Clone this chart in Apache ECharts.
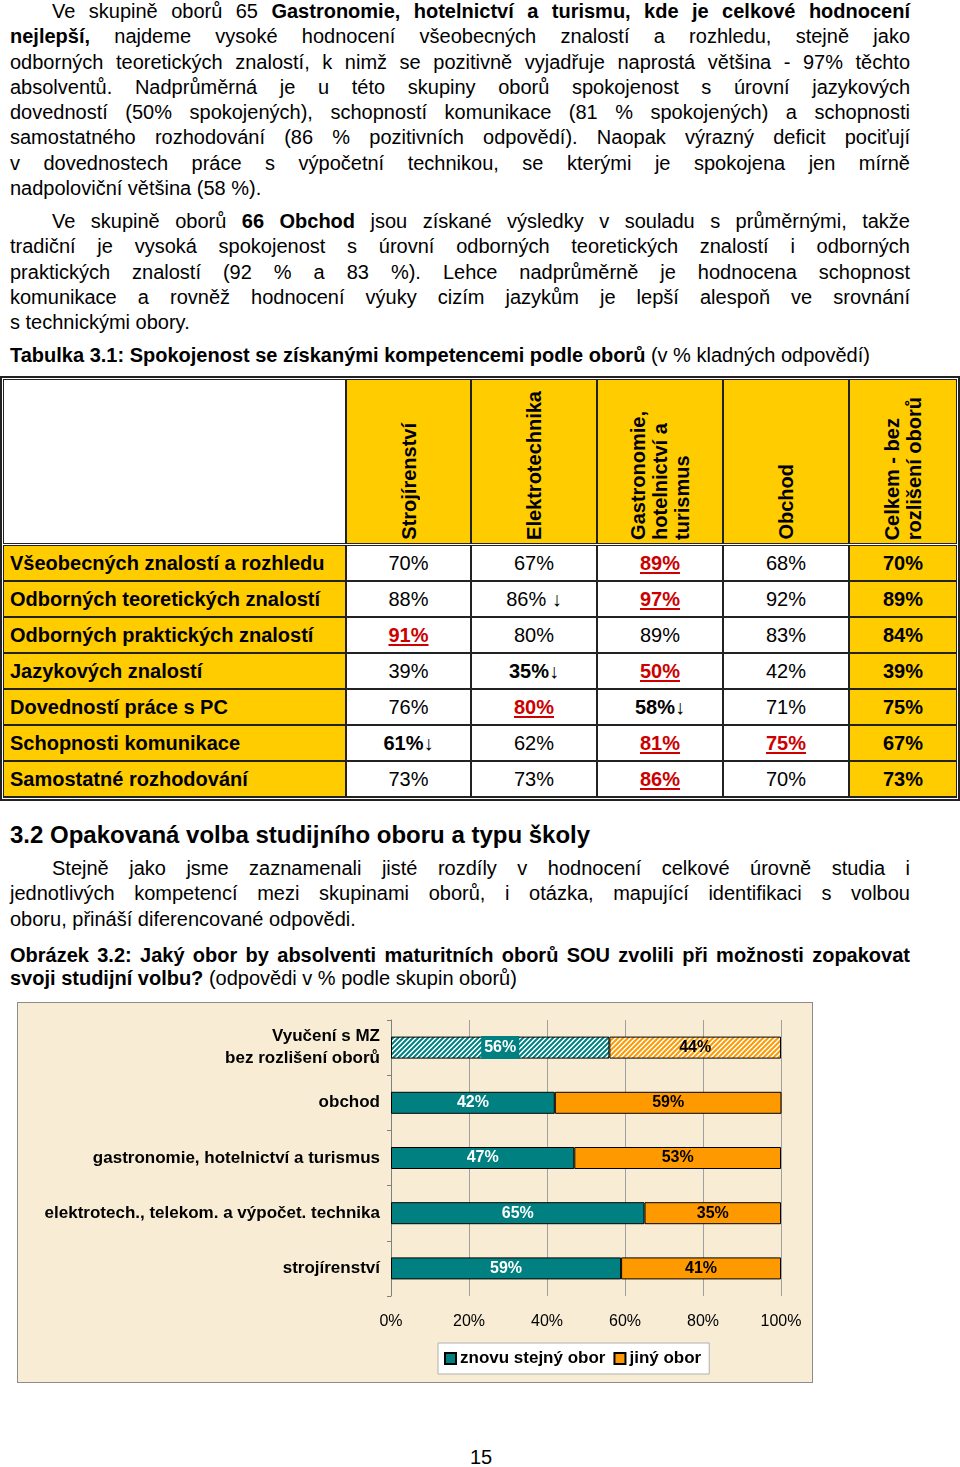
<!DOCTYPE html>
<html lang="cs">
<head>
<meta charset="utf-8">
<script src="https://cdn.jsdelivr.net/npm/echarts@6/dist/echarts.min.js"></script>
<style>
  html, body { margin:0; padding:0; background:#fff; }
  body { width:960px; height:1467px; position:relative; overflow:hidden;
         font-family:"Liberation Sans", Arial, sans-serif; color:#000; }
  .blk { position:absolute; left:10px; width:900px; font-size:20px; }
  .blk div { height:25.3px; line-height:25.3px; text-align:justify; text-align-last:justify; white-space:normal; }
  .blk div.ind { text-indent:42px; }
  .blk div.last { text-align:left; text-align-last:left; }
  .cap div { height:23px; line-height:23px; }
  #tbl { position:absolute; left:0; top:376px; width:960px; height:425px; box-sizing:border-box;
         border:2px solid #222; background:#fff; }
  #tblin { position:absolute; left:1px; top:1px; width:954px; height:419px; background:#222; }
  .cell { position:absolute; box-sizing:border-box; font-size:20px; display:flex; align-items:center; }
  .hcell { position:absolute; box-sizing:border-box; background:#FFCC00; display:flex; justify-content:center; align-items:flex-end; }
  .vt { writing-mode:vertical-rl; transform:rotate(180deg); font-weight:bold; font-size:20px; line-height:22px; text-align:start; padding-top:3px; }
  .hi { color:#CC0000; font-weight:bold; text-decoration:underline; text-decoration-thickness:2px; text-underline-offset:2px; }
  .lo { font-weight:bold; }
  #chartBox { position:absolute; left:17px; top:1002px; width:796px; height:381px; box-sizing:border-box;
              border:1px solid #8c8c8c; background:#F8EDD4; }
  #chart { position:absolute; left:0; top:0; width:794px; height:379px; }
</style>
</head>
<body>

<div class="blk" style="top:-1px">
  <div class="ind">Ve skupině oborů 65 <b>Gastronomie, hotelnictví a turismu, kde je celkové hodnocení</b></div>
  <div><b>nejlepší,</b> najdeme vysoké hodnocení všeobecných znalostí a rozhledu, stejně jako</div>
  <div>odborných teoretických znalostí, k nimž se pozitivně vyjadřuje naprostá většina - 97% těchto</div>
  <div>absolventů. Nadprůměrná je u této skupiny oborů spokojenost s úrovní jazykových</div>
  <div>dovedností (50% spokojených), schopností komunikace (81 % spokojených) a schopnosti</div>
  <div>samostatného rozhodování (86 % pozitivních odpovědí). Naopak výrazný deficit pociťují</div>
  <div>v dovednostech práce s výpočetní technikou, se kterými je spokojena jen mírně</div>
  <div class="last">nadpoloviční většina (58 %).</div>
</div>

<div class="blk" style="top:209px">
  <div class="ind">Ve skupině oborů <b>66 Obchod</b> jsou získané výsledky v souladu s průměrnými, takže</div>
  <div>tradiční je vysoká spokojenost s úrovní odborných teoretických znalostí i odborných</div>
  <div>praktických znalostí (92 % a 83 %). Lehce nadprůměrně je hodnocena schopnost</div>
  <div>komunikace a rovněž hodnocení výuky cizím jazykům je lepší alespoň ve srovnání</div>
  <div class="last">s technickými obory.</div>
</div>

<div class="blk" style="top:343px">
  <div class="last"><b>Tabulka 3.1: Spokojenost se získanými kompetencemi podle oborů</b> (v % kladných odpovědí)</div>
</div>

<div id="tbl"><div id="tblin"></div></div>

<div class="blk" style="top:820px; font-size:24px; font-weight:bold;">
  <div class="last" style="height:30px; line-height:30px;">3.2 Opakovaná volba studijního oboru a typu školy</div>
</div>

<div class="blk" style="top:856px">
  <div class="ind">Stejně jako jsme zaznamenali jisté rozdíly v hodnocení celkové úrovně studia i</div>
  <div>jednotlivých kompetencí mezi skupinami oborů, i otázka, mapující identifikaci s volbou</div>
  <div class="last">oboru, přináší diferencované odpovědi.</div>
</div>

<div class="blk cap" style="top:944px">
  <div><b>Obrázek 3.2: Jaký obor by absolventi maturitních oborů SOU zvolili při možnosti zopakovat</b></div>
  <div class="last"><b>svoji studijní volbu?</b> (odpovědi v % podle skupin oborů)</div>
</div>

<div id="chartBox"><div id="chart"></div></div>

<div style="position:absolute; left:0; width:962px; top:1444px; text-align:center; font-size:20px; line-height:26px;">15</div>

<script>
// ---------- Table data ----------
const tableColumns = ['Strojírenství', 'Elektrotechnika', 'Gastronomie,\nhotelnictví a\nturismus', 'Obchod', 'Celkem - bez\nrozlišení oborů'];
const tableRows = ['Všeobecných znalostí a rozhledu', 'Odborných teoretických znalostí', 'Odborných praktických znalostí',
                   'Jazykových znalostí', 'Dovedností práce s PC', 'Schopnosti komunikace', 'Samostatné rozhodování'];
const tableValues = [
  [70, 67, 89, 68, 70],
  [88, 86, 97, 92, 89],
  [91, 80, 89, 83, 84],
  [39, 35, 50, 42, 39],
  [76, 80, 58, 71, 75],
  [61, 62, 81, 75, 67],
  [73, 73, 86, 70, 73]
];
// cells [row, col] rated clearly above average (red, underlined)
const highMarks = [[0, 2], [1, 2], [2, 0], [3, 2], [4, 1], [5, 2], [5, 3], [6, 2]];
// cells [row, col] rated below average (arrow); boldLow marks the bold ones
const lowMarks = [[1, 1], [3, 1], [4, 2], [5, 0]];
const boldLow = [[3, 1], [4, 2], [5, 0]];

// ---------- Chart data ----------
const categories = ['Vyučení s MZ\nbez rozlišení oborů', 'obchod', 'gastronomie, hotelnictví a turismus',
                    'elektrotech., telekom. a výpočet. technika', 'strojírenství'];
const sameField = [56, 42, 47, 65, 59];
const otherField = [44, 59, 53, 35, 41];
const seriesNames = ['znovu stejný obor', 'jiný obor'];
const xTicks = [0, 20, 40, 60, 80, 100];

// ---------- Build table ----------
(function () {
  const inner = document.getElementById('tblin');
  const colX = [[1, 342], [344, 467], [469, 593], [595, 719], [721, 845], [847, 953]];
  const headY = [1, 164];
  const rowY0 = 167, rowH = 36;
  const has = (arr, r, c) => arr.some(p => p[0] === r && p[1] === c);
  const sep = document.createElement('div');
  sep.style.cssText = 'position:absolute;left:0;width:954px;top:165px;height:1px;background:#fff;';
  inner.appendChild(sep);
  const h0 = document.createElement('div');
  h0.className = 'hcell';
  h0.style.cssText += `left:${colX[0][0]}px;width:${colX[0][1] - colX[0][0]}px;top:${headY[0]}px;height:${headY[1] - headY[0]}px;background:#fff;`;
  inner.appendChild(h0);
  tableColumns.forEach((name, i) => {
    const d = document.createElement('div');
    d.className = 'hcell';
    const [x0, x1] = colX[i + 1];
    d.style.cssText += `left:${x0}px;width:${x1 - x0}px;top:${headY[0]}px;height:${headY[1] - headY[0]}px;`;
    const t = document.createElement('div');
    t.className = 'vt';
    t.innerHTML = name.split('\n').join('<br>');
    d.appendChild(t);
    inner.appendChild(d);
  });
  tableRows.forEach((label, r) => {
    const y = rowY0 + r * rowH;
    const lc = document.createElement('div');
    lc.className = 'cell';
    lc.style.cssText += `left:${colX[0][0]}px;width:${colX[0][1] - colX[0][0]}px;top:${y}px;height:${rowH - 2}px;background:#FFCC00;font-weight:bold;padding-left:6px;`;
    lc.textContent = label;
    inner.appendChild(lc);
    tableValues[r].forEach((v, c) => {
      const d = document.createElement('div');
      d.className = 'cell';
      const [x0, x1] = colX[c + 1];
      const last = c === tableValues[r].length - 1;
      d.style.cssText += `left:${x0}px;width:${x1 - x0}px;top:${y}px;height:${rowH - 2}px;justify-content:center;background:${last ? '#FFCC00' : '#fff'};${last ? 'font-weight:bold;' : ''}`;
      let html = v + '%';
      if (has(highMarks, r, c)) html = `<span class="hi">${v}%</span>`;
      else if (has(lowMarks, r, c)) {
        html = has(boldLow, r, c) ? `<span class="lo">${v}%</span>↓` : `${v}% ↓`;
      }
      d.innerHTML = html;
      inner.appendChild(d);
    });
  });
})();

// ---------- Build chart ----------
function hatch(color) {
  const c = document.createElement('canvas');
  c.width = 5; c.height = 5;
  const g = c.getContext('2d');
  g.fillStyle = '#ffffff';
  g.fillRect(0, 0, 5, 5);
  g.strokeStyle = color;
  g.lineWidth = 2;
  g.beginPath();
  g.moveTo(-1, 6); g.lineTo(6, -1);
  g.moveTo(-1, 1); g.lineTo(1, -1);
  g.moveTo(4, 6); g.lineTo(6, 4);
  g.stroke();
  return { image: c, repeat: 'repeat' };
}
const TEAL = '#008080', ORANGE = '#FF9900';
const chart = echarts.init(document.getElementById('chart'), null, { renderer: 'canvas' });
const FONT = '"Liberation Sans", Arial, sans-serif';
const mk = (vals, pattern, labelBg) => vals.map((v, i) => i === 0 ? {
  value: v,
  itemStyle: { color: pattern },
  label: labelBg ? { backgroundColor: labelBg, padding: [4, 3, 3, 3] } : {}
} : v);
chart.setOption({
  animation: false,
  textStyle: { fontFamily: FONT },
  grid: { left: 373, right: 31, top: 17, height: 276, containLabel: false },
  legend: {
    left: 420, top: 340,
    backgroundColor: '#ffffff', borderColor: '#b0b0b0', borderWidth: 1,
    padding: [7, 8, 7, 6],
    itemWidth: 11, itemHeight: 11, itemGap: 8,
    icon: 'rect',
    textStyle: { fontFamily: FONT, fontSize: 17, fontWeight: 'bold', color: '#000', padding: [0, 0, 0, -1] },
    data: seriesNames
  },
  xAxis: {
    type: 'value', min: xTicks[0], max: xTicks[xTicks.length - 1], interval: xTicks[1] - xTicks[0],
    axisLine: { show: false }, axisTick: { show: false },
    splitLine: { show: true, lineStyle: { color: '#a0a0a0', width: 1 } },
    axisLabel: { formatter: '{value}%', fontSize: 16, color: '#000', margin: 18, fontFamily: FONT }
  },
  yAxis: {
    type: 'category', inverse: true, data: categories,
    axisLine: { show: true, lineStyle: { color: '#808080' } },
    axisTick: { show: true, length: 4, lineStyle: { color: '#808080' } },
    axisLabel: { fontSize: 17, fontWeight: 'bold', color: '#000', margin: 11, lineHeight: 22, align: 'right', fontFamily: FONT }
  },
  series: [
    {
      name: seriesNames[0], type: 'bar', stack: 'total', barWidth: 22,
      itemStyle: { color: TEAL, borderColor: '#000', borderWidth: 1 },
      label: { show: true, position: 'inside', formatter: '{c}%', color: '#fff', fontWeight: 'bold', fontSize: 16, fontFamily: FONT },
      data: mk(sameField, hatch(TEAL), TEAL)
    },
    {
      name: seriesNames[1], type: 'bar', stack: 'total', barWidth: 22,
      itemStyle: { color: ORANGE, borderColor: '#000', borderWidth: 1 },
      label: { show: true, position: 'inside', formatter: '{c}%', color: '#000', fontWeight: 'bold', fontSize: 16, fontFamily: FONT },
      data: mk(otherField, hatch(ORANGE), null)
    }
  ]
});
</script>
</body>
</html>
